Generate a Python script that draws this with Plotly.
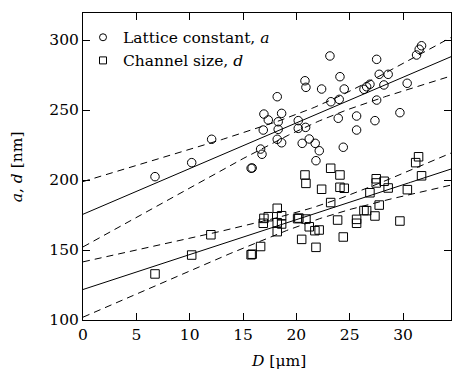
import numpy as np
import plotly.graph_objects as go

# Lattice constant a [nm] vs D [um]
D_a = [6.75, 10.19, 12.06, 15.76, 15.86, 16.65, 16.78, 16.9, 16.96, 17.37,
       18.21, 18.3, 18.62, 18.3, 18.21, 18.62, 20.18, 20.18, 20.87, 20.55,
       21.21, 21.77, 22.15, 21.84, 20.81, 20.9, 22.37, 23.24, 24.02, 24.09,
       24.49, 23.93, 24.4, 23.15, 25.65, 25.65, 26.34, 26.59, 26.9, 27.37,
       27.53, 27.53, 27.77, 28.61, 28.21, 29.71, 30.39, 31.27, 31.52, 31.74]
a_vals = [202.4, 212.4, 229.1, 208.4, 208.6, 222.1, 218.4, 235.7, 247.1, 242.9,
          259.5, 241.6, 247.6, 236.2, 229.1, 226.6, 242.4, 236.9, 237.6, 226.2,
          229.3, 226.2, 220.9, 213.8, 270.9, 266.2, 265.0, 255.9, 257.6, 273.8,
          265.0, 244.1, 223.4, 288.6, 245.7, 235.7, 264.8, 266.6, 268.4, 242.4,
          257.1, 286.2, 275.5, 275.5, 267.9, 248.1, 269.1, 289.3, 293.4, 295.9]

# Channel size d [nm] vs D [um]
D_d = [6.75, 10.19, 11.99, 15.76, 15.86, 16.65, 16.96, 17.37, 16.9, 18.21,
       18.62, 18.21, 18.62, 18.21, 20.12, 20.24, 20.9, 21.21, 21.74, 22.14,
       20.5, 21.84, 20.81, 20.9, 23.22, 24.09, 22.37, 24.09, 24.49, 23.22,
       23.87, 24.4, 25.65, 25.65, 26.34, 26.59, 27.37, 26.9, 27.49, 27.49,
       28.23, 28.61, 27.77, 29.71, 30.41, 31.46, 31.19, 31.74]
d_vals = [132.9, 146.4, 160.9, 146.6, 147.0, 152.5, 172.6, 173.8, 169.1, 179.8,
          174.5, 169.5, 168.6, 163.1, 172.4, 172.8, 172.1, 166.6, 163.8, 164.3,
          157.6, 151.9, 203.6, 197.6, 208.4, 203.6, 193.4, 194.8, 194.1, 183.9,
          171.4, 159.3, 171.9, 169.1, 178.2, 178.1, 174.3, 190.9, 200.9, 197.9,
          199.1, 194.3, 182.1, 170.7, 193.1, 216.6, 212.4, 203.0]

x_ticks = [0, 5, 10, 15, 20, 25, 30]
y_ticks = [100, 150, 200, 250, 300]
X_MAX = 34.5
Y_RANGE = [100, 319.3]
T_CRIT = 2.4  # band multiplier (about a 98 % confidence band)

FONT = "DejaVu Serif"
FS = 15.5


def fit_band(x, y, xs):
    x = np.asarray(x, float)
    y = np.asarray(y, float)
    n = len(x)
    b, a0 = np.polyfit(x, y, 1)
    resid = y - (a0 + b * x)
    s = np.sqrt(np.sum(resid ** 2) / (n - 2))
    xm = x.mean()
    sxx = np.sum((x - xm) ** 2)
    yfit = a0 + b * xs
    hw = T_CRIT * s * np.sqrt(1.0 / n + (xs - xm) ** 2 / sxx)
    return yfit, yfit - hw, yfit + hw


xs = np.linspace(0, X_MAX, 200)
fig = go.Figure()

for xv, yv in ((D_a, a_vals), (D_d, d_vals)):
    yfit, lo, hi = fit_band(xv, yv, xs)
    fig.add_trace(go.Scatter(x=xs, y=yfit, mode="lines", showlegend=False,
                             line=dict(color="black", width=1), hoverinfo="skip"))
    for band in (lo, hi):
        fig.add_trace(go.Scatter(x=xs, y=band, mode="lines", showlegend=False,
                                 line=dict(color="black", width=1, dash="7px,5px"),
                                 hoverinfo="skip"))

fig.add_trace(go.Scatter(x=D_a, y=a_vals, mode="markers", showlegend=False,
                         marker=dict(symbol="circle-open", size=8.5,
                                     color="black", line=dict(width=1))))
fig.add_trace(go.Scatter(x=D_d, y=d_vals, mode="markers", showlegend=False,
                         marker=dict(symbol="square-open", size=8.5,
                                     color="black", line=dict(width=1))))

# legend-only entries
fig.add_trace(go.Scatter(x=[None], y=[None], mode="markers",
                         name="Lattice constant, <i>a</i>",
                         marker=dict(symbol="circle-open", size=7, color="black",
                                     line=dict(width=1))))
fig.add_trace(go.Scatter(x=[None], y=[None], mode="markers",
                         name="Channel size, <i>d</i>",
                         marker=dict(symbol="square-open", size=7, color="black",
                                     line=dict(width=1))))

axis_common = dict(showline=True, linecolor="black", linewidth=1, mirror="ticks",
                   ticks="inside", ticklen=7, tickcolor="black", tickwidth=1,
                   showgrid=False, zeroline=False,
                   tickfont=dict(family=FONT, size=FS, color="black"))

fig.update_xaxes(range=[0, X_MAX], tickvals=x_ticks,
                 ticktext=[str(v) for v in x_ticks], **axis_common)
fig.update_yaxes(range=Y_RANGE, tickvals=y_ticks,
                 ticktext=[str(v) for v in y_ticks], **axis_common)

fig.add_annotation(text="<i>D</i> [μm]", xref="paper", yref="paper",
                   x=0.53, y=-0.135, xanchor="center", yanchor="middle",
                   showarrow=False, font=dict(family=FONT, size=FS, color="black"))
fig.add_annotation(text="<i>a</i>, <i>d</i> [nm]", xref="paper", yref="paper",
                   x=-0.18, y=0.5, xanchor="center", yanchor="middle",
                   textangle=-90, showarrow=False,
                   font=dict(family=FONT, size=FS, color="black"))

fig.update_layout(
    width=452, height=373,
    margin=dict(l=83, r=1, t=13, b=53),
    paper_bgcolor="white", plot_bgcolor="white",
    font=dict(family=FONT, size=FS, color="black"),
    legend=dict(x=0.0, y=0.975, xanchor="left", yanchor="top",
                bgcolor="rgba(0,0,0,0)", borderwidth=0,
                font=dict(family=FONT, size=FS, color="black"),
                itemwidth=30, tracegroupgap=0),
    showlegend=True,
)

fig.write_html("out.html")
